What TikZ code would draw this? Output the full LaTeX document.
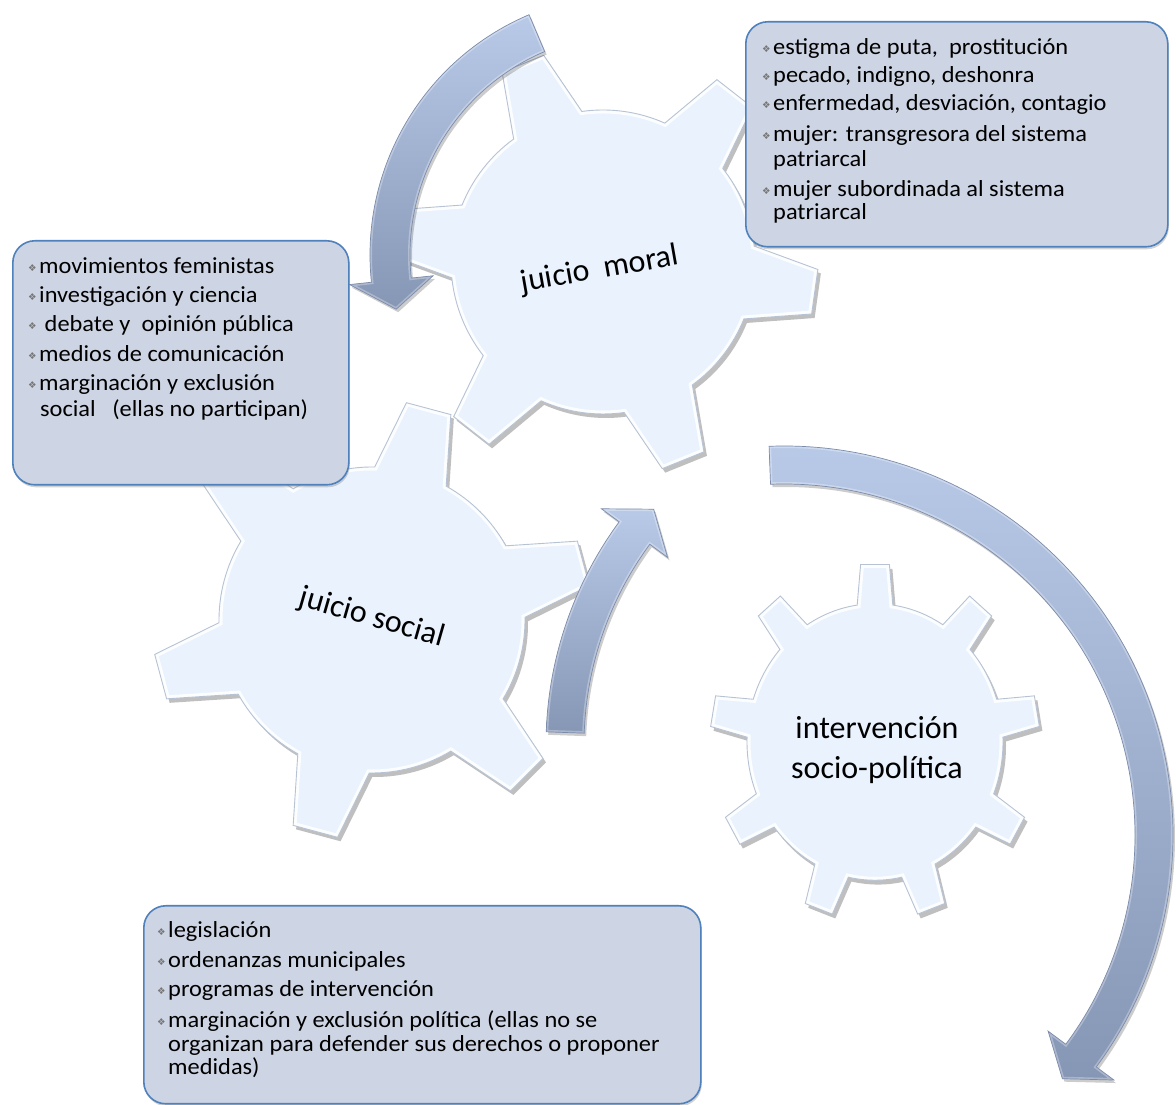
\documentclass[tikz,border=0pt]{standalone}
\usepackage{fontspec}
\setmainfont{Carlito}
\newfontfamily\listfont{Carlito}[FakeStretch=1.06]
\newfontfamily\symfont{DejaVu Sans}
\usetikzlibrary{shadows}

\definecolor{gearfill}{HTML}{E9F2FD}
\definecolor{gearedge}{HTML}{B7C3D4}
\definecolor{arrowtop}{HTML}{B9CAE8}
\definecolor{arrowbot}{HTML}{8696B5}
\definecolor{arrowedge}{HTML}{7C8CAB}
\definecolor{boxfill}{HTML}{CDD4E3}
\definecolor{boxline}{HTML}{4F81BD}
\definecolor{bulletgray}{HTML}{767676}

% outline of a gear: teeth count, body radius, tip radius,
% half angle at the base of a tooth, half angle at its tip, angle of the first tooth
\newcommand{\gearpath}[6]{%
  ({#6-#4}:#2)
  \foreach \k in {1,...,#1} {
    -- ({#6+(\k-1)*360/#1-#5}:#3)
    -- ({#6+(\k-1)*360/#1+#5}:#3)
    -- ({#6+(\k-1)*360/#1+#4}:#2)
    arc[start angle={#6+(\k-1)*360/#1+#4}, end angle={#6+\k*360/#1-#4}, radius=#2]
  } -- cycle}

% beveled gear: scope options, teeth, body radius, tip radius, base half angle, tip half angle, first tooth angle
\newcommand{\drawgear}[7]{%
  \begin{scope}[#1]
    \fill[black, opacity=.25, shift={(3,-4)}] \gearpath{#2}{#3}{#4}{#5}{#6}{#7};
    \fill[gearfill] \gearpath{#2}{#3}{#4}{#5}{#6}{#7};
    \begin{scope}
      \clip \gearpath{#2}{#3}{#4}{#5}{#6}{#7};
      \draw[white, line width=7pt, opacity=.85] \gearpath{#2}{#3}{#4}{#5}{#6}{#7};
    \end{scope}
    \draw[gearedge, line width=.9pt] \gearpath{#2}{#3}{#4}{#5}{#6}{#7};
  \end{scope}}

% curved arrow around a centre: inner radius, outer radius, start angle,
% angle of the head's base, angle of the tip, inner and outer wing radius
\newcommand{\ringarrow}[7]{%
  (#3:#2) arc[start angle=#3, end angle=#4, radius=#2]
  -- (#4:#7) -- (#5:{(#1+#2)/2}) -- (#4:#6) -- (#4:#1)
  arc[start angle=#4, end angle=#3, radius=#1] -- cycle}

\newcommand{\drawarrow}[8]{%
  \begin{scope}[shift={#1}]
    \fill[black, opacity=.2, shift={(2,-3)}] \ringarrow{#2}{#3}{#4}{#5}{#6}{#7}{#8};
    \shade[top color=arrowtop, bottom color=arrowbot] \ringarrow{#2}{#3}{#4}{#5}{#6}{#7}{#8};
    \begin{scope}
      \clip \ringarrow{#2}{#3}{#4}{#5}{#6}{#7}{#8};
      \draw[white, line width=4pt, opacity=.3] \ringarrow{#2}{#3}{#4}{#5}{#6}{#7}{#8};
    \end{scope}
    \draw[arrowedge, line width=.7pt] \ringarrow{#2}{#3}{#4}{#5}{#6}{#7}{#8};
  \end{scope}}

\newcommand{\bul}{\makebox[11pt][l]{\raisebox{2.5pt}{\symfont\fontsize{9.5}{9.5}\selectfont\color{bulletgray}❖}}}

\begin{document}
\begin{tikzpicture}[x=1pt, y=1pt,
  box/.style={draw=boxline, line width=1.6pt, fill=boxfill, rounded corners=22pt,
    inner sep=0pt, anchor=north west,
    drop shadow={opacity=.35, shadow xshift=1pt, shadow yshift=-2.5pt}},
  lst/.style={anchor=base west, inner sep=0pt, font=\listfont\fontsize{23}{26}\selectfont},
  geartxt/.style={inner sep=0pt, font=\fontsize{32}{40}\selectfont}]
\useasboundingbox (0,0) rectangle (1176,1105);
\fill[white] (0,0) rectangle (1176,1105);

% gears
\drawgear{shift={(603,843)}}{6}{152}{215}{14}{6}{52}
\drawgear{shift={(372,485)}}{6}{153}{220}{14}{6}{75}
\drawgear{shift={(875,363)}, yscale=1.08}{9}{128}{165}{8}{5}{90}

% curved arrows
\drawarrow{(631,850)}{221}{261}{113}{186}{193}{199}{283}
\drawarrow{(923,360)}{339}{377}{178}{143.7}{138.8}{317}{399}
\drawarrow{(784,270)}{351}{389}{92.2}{-36.6}{-41.2}{329}{411}

% gear labels
\node[geartxt, rotate=10] (tmoral) at (600,835) {juicio\ \ moral};
\node[geartxt, rotate=-16] (tsocial) at (372,487) {juicio social};
\node[geartxt, align=center] (tinterv) at (877,355) {intervención\\socio-política};

% text boxes
\node[box, minimum width=422pt, minimum height=225pt] (boxmoral) at (745,1084) {};
\node[box, minimum width=336pt, minimum height=244pt] (boxsocial) at (12,865) {};
\node[box, minimum width=557pt, minimum height=198pt] (boxpol) at (143,200) {};

\node[lst] (m1) at (762,1050) {\bul estigma de puta,\ \ prostitución};
\node[lst] (m2) at (762,1022) {\bul pecado, indigno, deshonra};
\node[lst] (m3) at (762,994) {\bul enfermedad, desviación, contagio};
\node[lst] (m4) at (762,963) {\bul mujer: transgresora del sistema};
\node[lst] (m4b) at (773,938) {patriarcal};
\node[lst] (m5) at (762,908) {\bul mujer subordinada al sistema};
\node[lst] (m5b) at (773,885) {patriarcal};

\node[lst] (s1) at (28,831) {\bul movimientos feministas};
\node[lst] (s2) at (28,802) {\bul investigación y ciencia};
\node[lst] (s3) at (28,773) {\bul\ debate y\ \ opinión pública};
\node[lst] (s4) at (28,743) {\bul medios de comunicación};
\node[lst] (s5) at (28,714) {\bul marginación y exclusión};
\node[lst] (s5b) at (40,688) {social\ \ \ (ellas no participan)};

\node[lst] (p1) at (157,167) {\bul legislación};
\node[lst] (p2) at (157,137) {\bul ordenanzas municipales};
\node[lst] (p3) at (157,108) {\bul programas de intervención};
\node[lst] (p4) at (157,77) {\bul marginación y exclusión política (ellas no se};
\node[lst] (p4b) at (168,53) {organizan para defender sus derechos o proponer};
\node[lst] (p4c) at (168,30) {medidas)};
\end{tikzpicture}
\end{document}
